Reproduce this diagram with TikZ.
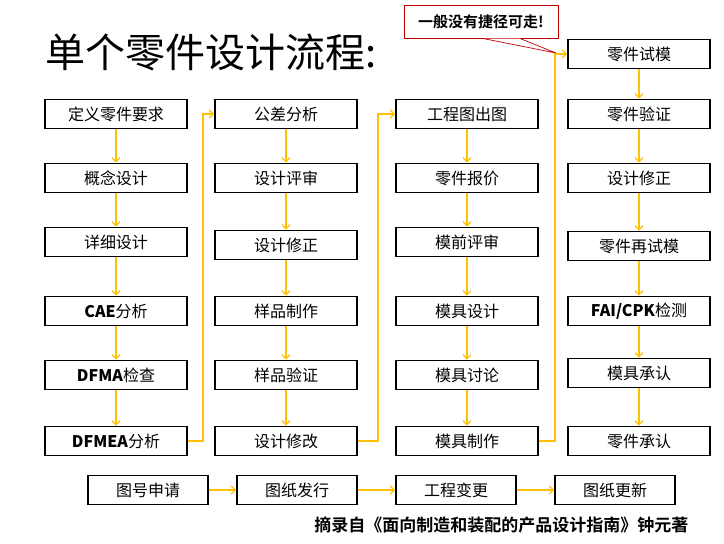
\documentclass[tikz,border=0pt]{standalone}
\usepackage{fontspec}
\setmainfont{Liberation Sans}
\newfontfamily\cjk{Noto Sans CJK SC}
\newfontfamily\cjkb{Noto Sans CJK SC Bold}
\usetikzlibrary{arrows.meta}
\definecolor{arr}{HTML}{FFC000}
\definecolor{callred}{HTML}{C00000}
\tikzset{
 box/.style={draw=black,line width=1.8pt,minimum width=142pt,minimum height=29pt,inner sep=0pt,font=\cjk\fontsize{16}{18}\selectfont},
 sbox/.style={box,minimum width=120pt},
 flow/.style={draw=arr,line width=1.3pt,-{Straight Barb[length=4pt,width=8pt]}}
}
\begin{document}
\begin{tikzpicture}[x=1pt,y=-1pt]
\useasboundingbox (0,0) rectangle (724,544);
\node[anchor=west,font=\cjk\fontsize{40}{44}\selectfont] (title) at (42,52) {单个零件设计流程:};
% column 1
\node[box] (a1) at (116,114) {定义零件要求};
\node[box] (a2) at (116,178) {概念设计};
\node[box] (a3) at (116,242) {详细设计};
\node[box] (a4) at (116,311) {\textbf{CAE}{\cjk 分析}};
\node[box] (a5) at (116,375) {\textbf{DFMA}{\cjk 检查}};
\node[box] (a6) at (116,441) {\textbf{DFMEA}{\cjk 分析}};
% column 2
\node[box] (b1) at (286,114) {公差分析};
\node[box] (b2) at (286,178) {设计评审};
\node[box] (b3) at (286,245) {设计修正};
\node[box] (b4) at (286,311) {样品制作};
\node[box] (b5) at (286,375) {样品验证};
\node[box] (b6) at (286,441) {设计修改};
% column 3
\node[box] (c1) at (467,114) {工程图出图};
\node[box] (c2) at (467,178) {零件报价};
\node[box] (c3) at (467,242) {模前评审};
\node[box] (c4) at (467,311) {模具设计};
\node[box] (c5) at (467,375) {模具讨论};
\node[box] (c6) at (467,441) {模具制作};
% column 4
\node[box] (d0) at (639,54) {零件试模};
\node[box] (d1) at (639,114) {零件验证};
\node[box] (d2) at (639,178) {设计修正};
\node[box] (d3) at (639,246) {零件再试模};
\node[box] (d4) at (639,311) {\textbf{FAI/CPK}{\cjk 检测}};
\node[box] (d5) at (639,373) {模具承认};
\node[box] (d6) at (639,441) {零件承认};
% bottom row
\node[sbox] (e1) at (148,490) {图号申请};
\node[sbox] (e2) at (297,490) {图纸发行};
\node[sbox] (e3) at (456,490) {工程变更};
\node[sbox] (e4) at (615,490) {图纸更新};
% vertical flows
\draw[flow] (a1) -- (a2); \draw[flow] (a2) -- (a3); \draw[flow] (a3) -- (a4); \draw[flow] (a4) -- (a5); \draw[flow] (a5) -- (a6);
\draw[flow] (b1) -- (b2); \draw[flow] (b2) -- (b3); \draw[flow] (b3) -- (b4); \draw[flow] (b4) -- (b5); \draw[flow] (b5) -- (b6);
\draw[flow] (c1) -- (c2); \draw[flow] (c2) -- (c3); \draw[flow] (c3) -- (c4); \draw[flow] (c4) -- (c5); \draw[flow] (c5) -- (c6);
\draw[flow] (d0) -- (d1); \draw[flow] (d1) -- (d2); \draw[flow] (d2) -- (d3); \draw[flow] (d3) -- (d4); \draw[flow] (d4) -- (d5); \draw[flow] (d5) -- (d6);
% column links
\draw[flow] (a6.east) -- ++(15,0) |- (b1.west);
\draw[flow] (b6.east) -- ++(20,0) |- (c1.west);
\draw[flow] (c6.east) -- ++(16,0) |- (d0.west);
\draw[flow] (e1) -- (e2); \draw[flow] (e2) -- (e3); \draw[flow] (e3) -- (e4);
% callout
\coordinate (tip) at (556,53);
\node[draw=callred,line width=0.7pt,fill=white,minimum width=154pt,minimum height=33pt,inner sep=0pt,font=\cjkb\fontsize{15}{17}\selectfont] (call) at (481,22) {一般没有捷径可走!};
\draw[callred,line width=0.7pt,fill=white] (483,38.5) -- (tip) -- (520,38.5);
\node[anchor=east,font=\cjkb\fontsize{17}{19}\selectfont] (src) at (692,525) {摘录自《面向制造和装配的产品设计指南》钟元著};
\end{tikzpicture}
\end{document}
